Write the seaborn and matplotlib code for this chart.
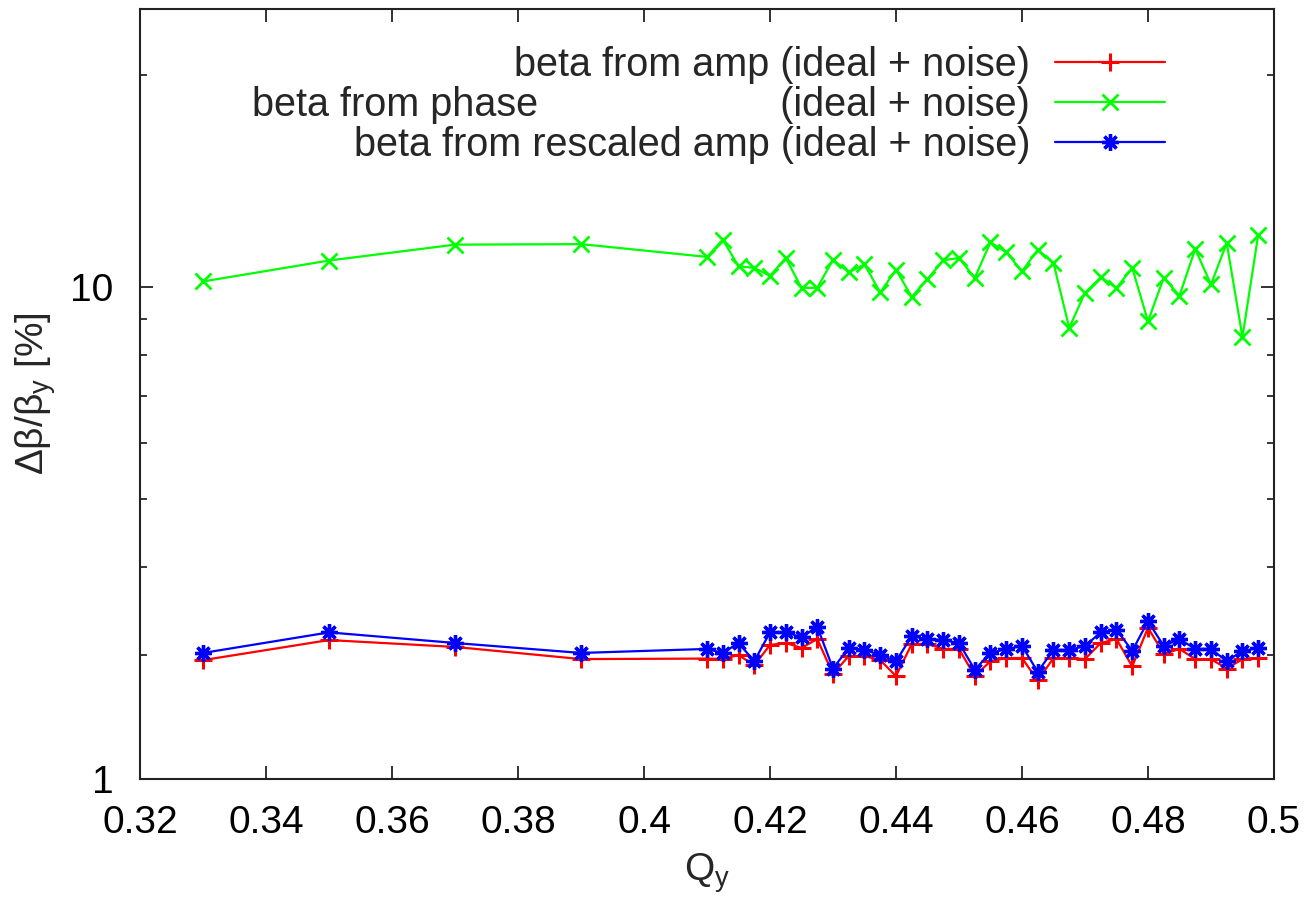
import matplotlib
matplotlib.use("Agg")
import matplotlib.pyplot as plt
import matplotlib.ticker as mticker
import seaborn as sns
import pandas as pd

sns.set_style("ticks")
plt.rcParams['font.family'] = ['Liberation Sans', 'DejaVu Sans']
plt.rcParams['mathtext.fontset'] = 'custom'
plt.rcParams['mathtext.rm'] = 'Liberation Sans'
plt.rcParams['mathtext.it'] = 'Liberation Sans:italic'

# ---- data ----
q_tune = [0.33, 0.35, 0.37, 0.39, 0.41, 0.4125, 0.415, 0.4175, 0.42, 0.4225,
          0.425, 0.4275, 0.43, 0.4325, 0.435, 0.4375, 0.44, 0.4425, 0.445, 0.4475,
          0.45, 0.4525, 0.455, 0.4575, 0.46, 0.4625, 0.465, 0.4675, 0.47, 0.4725,
          0.475, 0.4775, 0.48, 0.4825, 0.485, 0.4875, 0.49, 0.4925, 0.495, 0.4975]

beta_amp = [2.95, 3.15, 3.08, 2.96, 2.965, 2.96, 3.00, 2.90, 3.10, 3.12,
            3.07, 3.16, 2.82, 2.99, 2.99, 2.95, 2.80, 3.11, 3.11, 3.06,
            3.06, 2.80, 2.94, 2.97, 2.97, 2.76, 2.97, 2.97, 2.96, 3.12,
            3.16, 2.89, 3.28, 3.01, 3.06, 2.96, 2.96, 2.87, 2.96, 2.97]

beta_phase = [10.17, 10.89, 11.47, 11.49, 11.02, 11.66, 10.69, 10.63, 10.36, 10.98,
              9.96, 9.96, 10.92, 10.48, 10.75, 9.81, 10.57, 9.67, 10.25, 10.90,
              10.98, 10.29, 11.56, 11.19, 10.51, 11.28, 10.80, 8.74, 9.80, 10.31,
              9.96, 10.63, 8.93, 10.29, 9.71, 11.31, 10.07, 11.53, 8.48, 11.85]

beta_rescaled = [3.02, 3.23, 3.12, 3.02, 3.06, 3.02, 3.12, 2.94, 3.23, 3.23,
                 3.18, 3.29, 2.87, 3.07, 3.05, 3.00, 2.94, 3.19, 3.16, 3.15,
                 3.12, 2.86, 3.02, 3.06, 3.09, 2.84, 3.05, 3.05, 3.09, 3.23,
                 3.26, 3.04, 3.35, 3.09, 3.16, 3.06, 3.06, 2.94, 3.04, 3.07]

labels = ["beta from amp (ideal + noise)",
          "beta from phase" + " " * 22 + "(ideal + noise)",
          "beta from rescaled amp (ideal + noise)"]

x_ticks = [0.32, 0.34, 0.36, 0.38, 0.40, 0.42, 0.44, 0.46, 0.48, 0.50]
x_tick_labels = ["0.32", "0.34", "0.36", "0.38", "0.4", "0.42", "0.44", "0.46", "0.48", "0.5"]
y_major = [2, 10]
y_major_labels = ["1", "10"]
y_minor = [3, 4, 5, 6, 7, 8, 9, 20]

df = pd.DataFrame({"q": q_tune, "amp": beta_amp, "phase": beta_phase, "resc": beta_rescaled})

fig = plt.figure(figsize=(13.1, 9.0), dpi=100)
ax = fig.add_axes([0.1069, 0.1344, 0.8656, 0.8559])

series = [("amp", "#ff0000", "+", 13, 2.2, labels[0]),
          ("phase", "#00ff00", "x", 11, 2.0, labels[1]),
          ("resc", "#0000ff", (8, 2, 0), 12, 2.4, labels[2])]
for col, color, mk, ms, mew, lab in series:
    sns.lineplot(data=df, x="q", y=col, ax=ax, color=color, marker=mk,
                 markersize=ms, markeredgewidth=mew, markeredgecolor=color,
                 linewidth=1.6, label=lab, estimator=None, sort=False)

ax.set_yscale("log")
ax.set_xlim(0.32, 0.5)
ax.set_ylim(2, 24.8)

ax.xaxis.set_major_locator(mticker.FixedLocator(x_ticks))
ax.xaxis.set_major_formatter(mticker.FixedFormatter(x_tick_labels))
ax.yaxis.set_major_locator(mticker.FixedLocator(y_major))
ax.yaxis.set_major_formatter(mticker.FixedFormatter(y_major_labels))
ax.yaxis.set_minor_locator(mticker.FixedLocator(y_minor))
ax.yaxis.set_minor_formatter(mticker.NullFormatter())

ax.tick_params(axis="both", which="major", direction="in", length=9.5, width=1.3,
               top=True, right=True, labelsize=28, colors="#222222",
               labelcolor="black")
ax.tick_params(axis="x", which="major", pad=19)
ax.tick_params(axis="y", which="major", pad=19)
ax.tick_params(axis="y", which="minor", direction="in", length=5, width=1.3,
               right=True, left=True)
ax.tick_params(axis="x", which="minor", bottom=False, top=False)

for s in ax.spines.values():
    s.set_linewidth(1.5)
    s.set_color("#222222")

ax.set_xlabel(r"Q$_\mathregular{y}$", fontsize=28, labelpad=7)
ax.set_ylabel(r"$\mathregular{\Delta\beta/\beta_y}$ [%]", fontsize=28)
ax.yaxis.set_label_coords(-0.072, 0.50)

leg = ax.legend(loc="upper right", bbox_to_anchor=(0.904, 0.952), frameon=False,
                markerfirst=False, fontsize=28.5, handlelength=2.78,
                handletextpad=0.63, labelspacing=0.05, borderpad=0,
                borderaxespad=0)

fig.savefig("out.png", dpi=100)
